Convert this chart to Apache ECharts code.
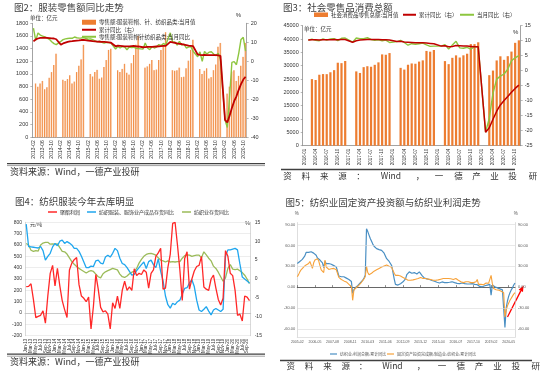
<!DOCTYPE html>
<html><head><meta charset="utf-8">
<script src="https://cdn.jsdelivr.net/npm/echarts@6/dist/echarts.min.js"></script>
<style>html,body{margin:0;padding:0;background:#fff}#c{width:550px;height:379px}</style>
</head><body><div id="c"></div>
<script>
const MON = ['Jan','Feb','Mar','Apr','May','Jun','Jul','Aug','Sep','Oct','Nov','Dec'];
function monthList(y0, m0, y1, m1, fmt, skipJan) {
  const out = [];
  let y = y0, m = m0;
  while (y < y1 || (y === y1 && m <= m1)) {
    if (!(skipJan && m === 1)) out.push(fmt(y, m));
    m++; if (m > 12) { m = 1; y++; }
  }
  return out;
}
const ym = (y, m) => y + '-' + String(m).padStart(2, '0');
const mY = (y, m) => MON[m - 1] + '-' + String(y).slice(2);

// ---------- Panel 1: 服装零售额 (2013-02 .. 2020-11)
const p1Cats = monthList(2013, 2, 2020, 11, ym, false);
const p1Sales = [
  null, 850, 800, 850, 890, 760, 790, 940, 1030, 1140, 1320,
  null, null, 910, 890, 920, 980, 850, 880, 1030, 1130, 1230, 1460,
  null, null, 1000, 960, 1030, 1065, 925, 945, 1110, 1220, 1380, 1400,
  null, null, 1060, 1030, 1080, 1160, 1020, 990, 1170, 1300, 1460, 1600,
  null, null, 1100, 1120, 1160, 1220, 1060, 1070, 1220, 1380, 1450, 1660,
  null, null, 1060, 1050, 1060, 1100, 950, 955, 1090, 1210, 1380, 1540,
  null, null, 1080, 1000, 1050, 1090, 930, 950, 1060, 1150, 1430, 1490,
  null, null, 690, 800, 1040, 1060, 890, 970, 1130, 1270, 1490
];
const p1Cum = [
  10.5, 11.5, 12, 12.3, 12.3, 12.4, 12.3, 12.2, 12.1, 12, 11.6,
  null, 8.8, 9.4, 9.8, 10.2, 10.5, 10.6, 10.8, 10.9, 11, 11.2, 11.3,
  null, 10.9, 10.8, 10.6, 10.5, 10.4, 10.3, 10.2, 10.2, 10.1, 10, 9.8,
  null, 7.9, 8.2, 8.1, 8, 7.9, 7.9, 7.9, 8, 8.1, 7.9, 7.8,
  null, 7.4, 7.5, 7.6, 7.6, 7.6, 7.7, 7.8, 7.9, 8, 8.1, 8.1,
  null, 10.2, 10, 9.7, 9.4, 9.2, 9.1, 8.8, 8.5, 8.2, 8.1, 8,
  null, 3.6, 3.4, 3.3, 3.4, 3.3, 3.3, 3.2, 3.2, 3.2, 3.1, 2.9,
  null, -30.9, -32.2, -28.6, -24.6, -21, -18.4, -15, -12, -9.6, -8.1
];
const p1Mon = [
  17.5, 11, 14.9, 13.8, 13.3, 12.8, 12.2, 11.6, 10.3, 9.3, 8.8,
  null, 10.5, 11.4, 11.8, 12, 12.2, 12.1, 12.8, 12.4, 12.2, 12.3, 12.5,
  null, 11.6, 11.8, 11.4, 10.8, 10.2, 10.6, 10, 9.6, 10, 9.8, 9.6,
  null, 6.5, 7.8, 7, 7.8, 7.5, 6.1, 7.5, 7.2, 7.4, 6.8, 6.7,
  null, 6.4, 9.6, 7, 6.1, 7.8, 7, 7.6, 8.8, 8.3, 9.4, 8.6,
  null, 15, 10, 10.2, 8.5, 10.5, 8.5, 9, 7, 7.5, 7.7, 5.3,
  null, 2.4, 5, 0, 5.2, 3.8, 4.8, 5, 3.8, 3, 4.2, 1,
  null, -30.9, -34.8, -18.5, -0.6, -0.2, -1.8, 4.2, 11.5, 12.6, 5.3
];

// ---------- Panel 2: 社会消费品零售总额 (2016-01 .. 2020-11)
const p2Cats = monthList(2016, 1, 2020, 11, ym, false);
const p2Sales = [
  null, null, 24975, 24646, 26611, 26857, 26827, 27540, 28333, 31119, 30959, 31757,
  null, null, 27864, 27278, 29459, 29808, 29610, 30330, 31252, 34240, 34108, 34734,
  null, null, 29194, 28542, 30359, 30842, 30734, 31542, 32005, 35534, 35260, 35893,
  null, null, 31726, 30586, 32956, 33878, 33073, 33896, 34495, 38104, 38094, 38777,
  null, null, 26450, 28178, 31973, 33526, 32203, 33571, 35295, 38576, 39514
];
const p2Cum = [
  null, 10.2, 10.3, 10.3, 10.2, 10.3, 10.3, 10.3, 10.4, 10.3, 10.4, 10.4,
  null, 9.5, 10.0, 10.2, 10.3, 10.4, 10.4, 10.4, 10.4, 10.3, 10.3, 10.2,
  null, 9.7, 9.8, 9.6, 9.5, 9.4, 9.3, 9.3, 9.3, 9.2, 9.1, 9.0,
  null, 8.2, 8.3, 8.0, 8.1, 8.4, 8.3, 8.2, 8.2, 8.1, 8.0, 8.0,
  null, -20.5, -19.0, -16.2, -13.5, -11.4, -9.9, -8.6, -7.2, -5.9, -4.8
];
const p2Mon = [
  null, 10.2, 10.5, 10.1, 10.0, 10.6, 10.2, 10.6, 10.7, 10.0, 10.8, 10.9,
  null, 9.5, 10.9, 10.7, 10.7, 11.0, 10.4, 10.1, 10.3, 10.0, 10.2, 9.4,
  null, 9.7, 10.1, 9.4, 8.5, 9.0, 8.8, 9.0, 9.2, 8.6, 8.1, 8.2,
  null, 8.2, 8.7, 7.2, 8.6, 9.8, 7.6, 7.5, 7.8, 7.2, 8.0, 8.0,
  null, -20.5, -15.8, -7.5, -2.8, -1.8, -1.1, 0.5, 3.3, 4.3, 5.0
];

// ---------- Panel 3: 纺织服装库存 (Jan-13 .. Oct-20)
const p3Cats = monthList(2013, 1, 2020, 10, mY, false);
const p3Profit = [
  232, 235, 258, 120, -40, -30, -20, 20, -90, 150, 350, 420,
  240, 395, 240, 110, 30, -40, 380, 440, 470, 490, 250, 150,
  130, 100, 140, -140, 60, 340, 210, 50, 10, 20, -10, -140,
  90, 40, 150, 40, 200, 280, 200, 230, 200, 390, 330, 350,
  340, 380, 360, 220, 350, 380, 500, 530, 570, 210, 220, 400,
  520, 790, 800, 600, 380, 110, 480, 540, 210, 300, 370, 410,
  420, 500, 230, 210, 200, 300, 335, 220, 120, 70, 130, 550,
  500, 350, 330, 200, -20, -10, -70, 150, 140, 110
];
const p3ApparelInv = [
  14.5, 8.6, 8.5, 8.4, 8.3, 8.2, 8.6, 7.5, 5.0, 6.0, 6.8, 8.5,
  9.4, 8.8, 10.0, 10.3, 9.4, 9.9, 9.5, 9.0, 8.1, 8.1, 7.3, 6.0,
  4.5, 3.0, 3.0, 3.4, 3.3, 4.8, 5.0, 4.2, 4.0, 5.8, 6.3, 5.8,
  6.8, 8.1, 7.5, 5.5, 4.1, 3.8, 3.0, 2.0, 1.0, 1.2, 2.2, 3.0,
  3.8, 4.5, 2.8, 4.6, 5.0, 3.8, 3.0, 5.3, 2.0, -0.5, -4.5, -6.8,
  -7.7, -6.4, -6.8, -6.0, -5.6, -4.0, -2.5, -2.3, -1.0, -0.2, -2.0, -5.6,
  -8.2, -8.6, -8.0, -7.3, -8.5, -9.5, -8.2, -7.8, -8.2, -8.6, -8.0, 6.0,
  7.7, 7.7, 7.9, 8.1, 7.7, 4.0, 0.5, 0.0, -0.5, -1.1
];
const p3TextileInv = [
  9.4, 9.0, 7.6, 7.3, 7.5, 7.4, 9.0, 9.5, 9.7, 9.7, 9.2, 9.3,
  9.2, 9.3, 8.3, 7.3, 7.2, 6.6, 5.6, 4.6, 3.9, 3.3, 2.8, 2.4,
  2.0, 1.6, 2.0, 2.2, 2.0, 1.3, 0.6, 0.3, 1.4, 1.9, 2.2, 2.5,
  2.8, 2.6, 2.4, 1.3, 0.6, 0.4, 0.8, 1.4, 1.8, 2.0, 2.8, 4.2,
  5.2, 6.0, 6.5, 6.7, 6.8, 6.6, 6.3, 5.6, 5.0, 4.8, 4.5, 4.8,
  4.5, 4.6, 4.5, 4.6, 4.6, 5.5, 6.2, 6.4, 6.3, 6.0, 6.2, 6.3,
  6.3, 5.6, 7.2, 6.4, 5.5, 4.8, 3.4, 2.8, 1.8, 0.6, -0.6, 0.3,
  2.8, 3.8, 2.6, 2.5, 2.6, 2.2, 1.7, 1.0, 0.0, -1.2
];

// ---------- Panel 4: 纺织业 (2005-02 .. 2020-10, no January)
const p4Cats = monthList(2005, 2, 2020, 10, ym, true);
const p4Profit = [
  34, 35, 37, 39, 40, 41, 45, 50, 50, 50, 49,
  51, 50, 49, 51, 46, 42, 40, 39, 38, 35, 28,
  37, 34, 34, 34, 33, 33, 32, 31, 30, 29, 29,
  16, 16, 15, 15, 15, 14, 13, 12, 11, 10, 8,
  -9, -4, -1, 0.5, 2, 4, 6, 8, 10, 13, 17,
  84, 80, 75, 70, 66, 62, 59, 57, 55.5, 55, 54,
  53, 53, 52, 49, 45, 41, 39, 37, 34, 31, 29,
  12, 4, 3, 3, 3.5, 5, 7, 7.7, 9.5, 12, 18,
  20, 22, 22, 20, 20, 21, 21, 19, 21, 22, 20,
  17, 15, 13, 12.5, 12, 11, 11, 10, 9.5, 9, 8.5,
  7.7, 7, 6.5, 6, 6.5, 7.5, 7.5, 6.5, 6, 6.5, 7,
  7, 7.5, 7.7, 7, 6.5, 6, 5.5, 5, 5, 5.5, 6,
  5.5, 5, 5, 4.5, 4, 4.5, 5, 5, 4.5, 4, 4,
  3.5, 2.4, 1, -0.5, 0.5, 1.4, 2, 2.5, 3, 3.5, 4,
  -11.5, 3, 1.5, 0.5, -0.5, -1, -1.5, -2.5, -3.5, -4, -6.7,
  -58, -30, -20, -13, -8, -4, -1, 3, 6
];
const p4Invest = [
  15, 18, 22, 25, 27, 29, 30, 32, 33, 34, 37,
  32, 27, 35, 39, 41, 41, 38, 31, 25, 23, 21,
  39, 29, 27, 25.5, 26, 26.5, 27, 27, 26, 25, 24,
  14, 12.5, 11, 10, 9, 8, 7.5, 6, 4, 2, 0.5,
  -19, -4, -1.5, -0.5, 1, 3, 5, 7, 9, 12, 15,
  30, 21, 18, 18, 20, 22, 23, 24.5, 25, 26, 27,
  28, 29, 30, 30.5, 31, 32, 29.5, 30, 29.5, 28.5, 27.5,
  20, 17, 17, 17, 16.5, 16, 15, 14, 13, 12, 11,
  10, 10, 10, 10, 10.5, 11, 11.5, 12, 12.5, 15, 14,
  13, 12.5, 12.5, 12.5, 12, 11.5, 11.5, 11, 10.5, 10, 10,
  10, 10, 10.5, 11, 11.5, 12, 12.5, 12.5, 12.5, 12.5, 12.5,
  12.5, 12, 10, 11, 12.5, 12.5, 11.5, 10, 9, 7.7, 5,
  6.5, 7.7, 7.7, 7.7, 7.7, 7, 6.5, 6, 6.5, 7, 7.7,
  11, 4, 4, 4, 3, 3.5, 4.5, 6, 6, 5.5, 5,
  17, 5, -2, -3.4, -3.8, -4, -4.3, -5, -6, -6.7, -8,
  -43, -33, -27, -23, -19, -16, -13, -10, -8
];
const p4Ticks = [-60, -30, 0, 30, 60, 90];

const CJK = '"Noto Sans CJK SC","Noto Sans",sans-serif';
const NUM = '"Liberation Sans","DejaVu Sans",sans-serif';
const plain = v => String(v);

function numLabel(size, extra) {
  return Object.assign({ fontSize: size, color: '#333', fontFamily: NUM, formatter: plain }, extra || {});
}
function valAxis(grid, pos, min, max, interval, lab, more) {
  return Object.assign({
    type: 'value', gridIndex: grid, position: pos, min: min, max: max, interval: interval,
    axisLine: { show: true, lineStyle: { color: '#8c8c8c', width: 0.8 } },
    axisTick: { show: true, length: 2, lineStyle: { color: '#8c8c8c', width: 0.6 } },
    axisLabel: lab, splitLine: { show: false }
  }, more || {});
}
function legendOne(name, icon, left, top, w, h, size, color, itemColor) {
  const d = { name: name, icon: icon };
  if (itemColor) d.itemStyle = { color: itemColor };
  return {
    data: [d], left: left, top: top, itemWidth: w, itemHeight: h, padding: 0,
    selectedMode: false,
    textStyle: { fontSize: size, color: color || '#333', fontFamily: CJK, padding: [0, 0, 0, -2] }
  };
}
function lineSeries(name, data, xi, yi, color, width, extra) {
  return Object.assign({
    type: 'line', name: name, data: data, xAxisIndex: xi, yAxisIndex: yi,
    symbol: 'none', connectNulls: true, lineStyle: { color: color, width: width },
    itemStyle: { color: color }, silent: true
  }, extra || {});
}
function txt(text, x, y, size, align, fill, font) {
  return { type: 'text', x: x, y: y, silent: true,
    style: { text: text, fontSize: size, fontFamily: font || CJK, fill: fill || '#333',
      align: align || 'left', verticalAlign: 'middle' } };
}
function hline(x1, x2, y, w, c) {
  return { type: 'line', silent: true, shape: { x1: x1, y1: y, x2: x2, y2: y },
    style: { stroke: c || '#404040', lineWidth: w } };
}
const spacedChars = ['资', '料', '来', '源', '：', 'Wind', '，', '一', '德', '产', '业', '投', '研'];
const spacedX2 = [287.5, 305.8, 324.2, 342.5, 360.5, 390.8, 420, 439, 458.5, 476.5, 494.5, 512.5, 533];
const spacedX4 = [290.8, 309, 327.5, 345.8, 363, 392.5, 421, 442, 460.8, 479, 497.5, 515.8, 535.8];

const graphics = [
  txt('单位：亿元', 30, 17.5, 5.5), txt('%', 238.5, 15, 6, 'center', '#333', NUM),
  txt('单位：亿元', 304, 28.5, 5.5), txt('%', 515.7, 32.3, 6, 'center', '#333', NUM),
  txt('元/吨', 30, 223.8, 5), txt('%', 247.5, 223.8, 5.5, 'center', '#333', NUM),
  txt('%', 296.7, 214, 4.5, 'center', '#595959', NUM), txt('%', 515.7, 214, 4.5, 'center', '#595959', NUM),
  hline(7, 265, 163.6, 1.3), hline(7, 265, 165.6, 0.5),
  hline(281, 515, 169.5, 1.5),
  hline(7, 265, 354.2, 1.3), hline(7, 265, 356.2, 0.5),
  hline(280, 532, 360.6, 1.5),
  txt('资料来源：Wind，一德产业投研', 10, 172, 9, 'left', '#333'),
  txt('资料来源：Wind，一德产业投研', 10, 362, 9, 'left', '#333'),
  // arrow (annotation)
  { type: 'line', silent: true, shape: { x1: 507.5, y1: 317, x2: 520.8, y2: 290.9 },
    style: { stroke: '#ff0000', lineWidth: 1.3 } },
  { type: 'polygon', silent: true, shape: { points: [[523.6, 285.4], [523.0, 292.0], [518.6, 289.8]] },
    style: { fill: '#ff0000' } }
];
spacedChars.forEach((c, i) => {
  graphics.push(txt(c, spacedX2[i], 175.5, 8.5, 'center', '#333'));
  graphics.push(txt(c, spacedX4[i], 365.3, 8.5, 'center', '#333'));
});

const barGrad = new echarts.graphic.LinearGradient(0, 0, 1, 0, [
  { offset: 0, color: '#ED7422' }, { offset: 0.55, color: '#F5A468' }, { offset: 1, color: '#FCD9BC' }
]);
const p4Fmt = v => v.toFixed(2);

const option = {
  animation: false,
  backgroundColor: '#fff',
  textStyle: { fontFamily: CJK },
  title: [
    { text: '图2：服装零售额同比走势', left: 14, top: 2.5, padding: 0,
      textStyle: { fontSize: 9.5, fontWeight: 'normal', color: '#404040', fontFamily: CJK } },
    { text: '图3：社会零售品消费总额', left: 283, top: 2.5, padding: 0,
      textStyle: { fontSize: 9.5, fontWeight: 'normal', color: '#404040', fontFamily: CJK } },
    { text: '图4：纺织服装今年去库明显', left: 15, top: 197, padding: 0,
      textStyle: { fontSize: 9.5, fontWeight: 'normal', color: '#404040', fontFamily: CJK } },
    { text: '图5：纺织业固定资产投资额与纺织业利润走势', left: 285.5, top: 197.5, padding: 0,
      textStyle: { fontSize: 9.5, fontWeight: 'normal', color: '#404040', fontFamily: CJK } }
  ],
  legend: [
    legendOne('零售额:服装鞋帽、针、纺织品类:当月值', 'rect', 82, 19.5, 14, 5, 5.5, '#333', '#ED7D31'),
    legendOne('累计同比（右）', 'rect', 82, 27, 14, 2, 5.5),
    legendOne('零售额:服装鞋帽针纺织品类:当月同比', 'rect', 82, 34, 14, 2, 5.5),
    legendOne('社会消费品零售总额:当月值', 'rect', 314, 12, 14, 4.5, 5.5),
    legendOne('累计同比（右）', 'rect', 403, 12, 13, 2, 5.5),
    legendOne('当月同比（右）', 'rect', 460, 12, 14, 2, 5.5),
    legendOne('聚酯利润', 'rect', 48, 209.5, 9, 1.5, 5),
    legendOne('纺织服装、服饰业产成品存货同比', 'rect', 87, 209.5, 9, 1.5, 5),
    legendOne('纺织业存货同比', 'rect', 182, 209.5, 9, 1.5, 5),
    legendOne('纺织业:利润总额:累计同比', 'rect', 330, 352, 7, 1.2, 4, '#595959'),
    legendOne('固定资产投资完成额:制造业:纺织业:累计同比', 'rect', 387, 352, 7, 1.2, 4, '#595959')
  ],
  grid: [
    { left: 32.3, top: 23.3, width: 214.4, height: 114 },
    { left: 302.7, top: 25.7, width: 218, height: 120 },
    { left: 25, top: 222.3, width: 225.7, height: 113.4 },
    { left: 297.3, top: 222.6, width: 217.7, height: 114.5 }
  ],
  xAxis: [
    { type: 'category', gridIndex: 0, data: p1Cats,
      axisLine: { lineStyle: { color: '#8c8c8c', width: 0.8 } }, axisTick: { show: false },
      axisLabel: numLabel(5, { rotate: 90, interval: 3, margin: 3, formatter: null }) },
    { type: 'category', gridIndex: 1, data: p2Cats,
      axisLine: { lineStyle: { color: '#8c8c8c', width: 0.8 } }, axisTick: { show: false },
      axisLabel: numLabel(4.5, { rotate: 90, interval: 2, margin: 3, formatter: null }) },
    { type: 'category', gridIndex: 2, data: p3Cats,
      axisLine: { lineStyle: { color: '#bfbfbf', width: 0.8 } }, axisTick: { show: false },
      axisLabel: numLabel(4.5, { rotate: 90, interval: 1, margin: 3, formatter: null }) },
    { type: 'category', gridIndex: 3, data: p4Cats, boundaryGap: false,
      axisLine: { onZero: false, lineStyle: { color: '#d0d0d0', width: 0.6 } }, axisTick: { show: false },
      axisLabel: numLabel(3.5, { interval: 13, margin: 2.5, color: '#595959', formatter: null }) },
    { type: 'category', gridIndex: 3, data: p4Cats, boundaryGap: false,
      axisLine: { onZero: true, lineStyle: { color: '#404040', width: 0.8 } },
      axisTick: { show: true, interval: 13, length: 2, lineStyle: { color: '#404040', width: 0.6 } },
      axisLabel: { show: false } }
  ],
  yAxis: [
    valAxis(0, 'left', 0, 1800, 200, numLabel(5.5, { margin: 4 })),
    valAxis(0, 'right', -40, 20, 10, numLabel(5.5, { margin: 4 })),
    valAxis(1, 'left', 0, 45000, 5000, numLabel(5.5, { margin: 4 })),
    valAxis(1, 'right', -25, 15, 5, numLabel(5.5, { margin: 4 })),
    valAxis(2, 'left', -200, 800, 100, numLabel(5, { margin: 3 }),
      { axisLine: { show: true, lineStyle: { color: '#bfbfbf', width: 0.6 } }, axisTick: { show: false },
        splitLine: { show: true, lineStyle: { color: '#e0e0e0', width: 0.6 } } }),
    valAxis(2, 'right', -15, 15, 5, numLabel(5, { margin: 4 }),
      { axisLine: { show: true, lineStyle: { color: '#bfbfbf', width: 0.6 } }, axisTick: { show: false } }),
    { type: 'value', gridIndex: 3, position: 'left', min: -72, max: 93,
      axisLine: { show: true, lineStyle: { color: '#c8c8c8', width: 0.6 } },
      axisTick: { show: false, customValues: p4Ticks },
      axisLabel: { fontSize: 4, fontFamily: NUM, margin: 2, color: '#595959', customValues: p4Ticks,
        formatter: p4Fmt },
      splitLine: { show: false } },
    { type: 'value', gridIndex: 3, position: 'right', min: -72, max: 93,
      axisLine: { show: true, lineStyle: { color: '#c8c8c8', width: 0.6 } },
      axisTick: { show: false, customValues: p4Ticks },
      axisLabel: { fontSize: 4, fontFamily: NUM, margin: 3, color: '#595959', customValues: p4Ticks,
        formatter: p4Fmt },
      splitLine: { show: false } }
  ],
  graphic: graphics,
  series: [
    { type: 'bar', name: '零售额:服装鞋帽、针、纺织品类:当月值', data: p1Sales, xAxisIndex: 0, yAxisIndex: 0,
      barWidth: '72%', itemStyle: { color: barGrad }, silent: true },
    lineSeries('累计同比（右）', p1Cum, 0, 1, '#C00000', 1.8, { z: 4 }),
    lineSeries('零售额:服装鞋帽针纺织品类:当月同比', p1Mon, 0, 1, '#8DC63F', 1.4, { z: 3 }),
    { type: 'bar', name: '社会消费品零售总额:当月值', data: p2Sales, xAxisIndex: 1, yAxisIndex: 2,
      barWidth: '60%', itemStyle: { color: '#ED7D31' }, silent: true },
    lineSeries('累计同比（右）', p2Cum, 1, 3, '#C00000', 1.5, { z: 4 }),
    lineSeries('当月同比（右）', p2Mon, 1, 3, '#8DC63F', 1.4, { z: 3 }),
    lineSeries('纺织业存货同比', p3TextileInv, 2, 5, '#9BBB59', 1.3),
    lineSeries('纺织服装、服饰业产成品存货同比', p3ApparelInv, 2, 5, '#1FA6EE', 1.3),
    lineSeries('聚酯利润', p3Profit, 2, 4, '#FF2828', 1.3, { z: 4 }),
    lineSeries('纺织业:利润总额:累计同比', p4Profit, 3, 6, '#4A8FC3', 1.2, {
      markLine: { silent: true, symbol: 'none', label: { show: false },
        lineStyle: { color: '#d9d9d9', width: 0.6, type: 'solid' },
        data: [{ yAxis: 90 }, { yAxis: 60 }, { yAxis: 30 }, { yAxis: -30 }, { yAxis: -60 }] } }),
    lineSeries('固定资产投资完成额:制造业:纺织业:累计同比', p4Invest, 3, 6, '#F7A23A', 1.1, { z: 3 })
  ]
};
const chart = echarts.init(document.getElementById('c'), null, { renderer: 'canvas' });
chart.setOption(option);
</script></body></html>
